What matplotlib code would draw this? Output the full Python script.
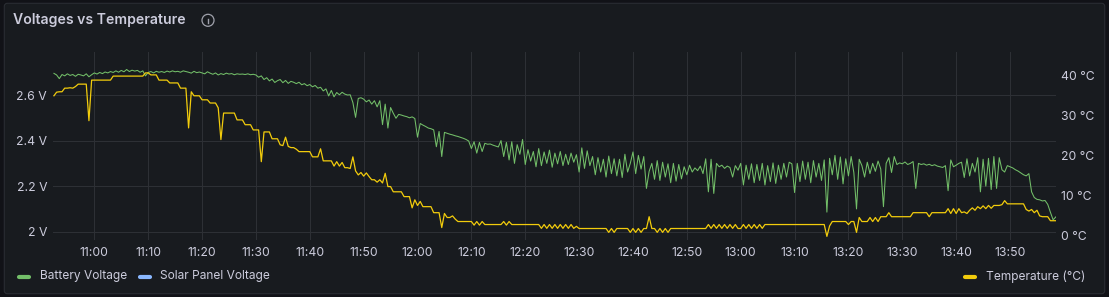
import matplotlib
matplotlib.use("Agg")
import matplotlib.pyplot as plt
import matplotlib.dates as mdates
from matplotlib.patches import FancyBboxPatch, Circle
from matplotlib.lines import Line2D
from datetime import datetime, timedelta

plt.rcParams['font.family'] = ['Inter', 'DejaVu Sans']

# samples every 30 s starting 10:52:30
start = datetime(2024, 1, 1, 10, 52, 30)
step_s = 30

battery_v = [
    2.695, 2.688, 2.672, 2.690, 2.684, 2.693, 2.686, 2.690, 2.682, 2.691,
    2.688, 2.684, 2.693, 2.680, 2.689, 2.697, 2.692, 2.699, 2.694, 2.701,
    2.697, 2.703, 2.699, 2.706, 2.700, 2.708, 2.702, 2.712, 2.703, 2.709,
    2.705, 2.708, 2.700, 2.706, 2.684, 2.699, 2.703, 2.697, 2.704, 2.700,
    2.703, 2.699, 2.705, 2.701, 2.706, 2.702, 2.704, 2.700, 2.706, 2.703,
    2.700, 2.696, 2.704, 2.698, 2.701, 2.697, 2.693, 2.702, 2.696, 2.691,
    2.697, 2.688, 2.694, 2.690, 2.696, 2.692, 2.694, 2.689, 2.693, 2.691,
    2.692, 2.690, 2.693, 2.689, 2.691, 2.688, 2.678, 2.684, 2.668, 2.676,
    2.662, 2.670, 2.655, 2.663, 2.668, 2.654, 2.664, 2.651, 2.660, 2.656,
    2.650, 2.656, 2.645, 2.650, 2.641, 2.646, 2.636, 2.642, 2.630, 2.634,
    2.618, 2.627, 2.596, 2.620, 2.592, 2.611, 2.601, 2.612, 2.604, 2.600,
    2.601, 2.567, 2.502, 2.585, 2.588, 2.582, 2.570, 2.578, 2.560, 2.575,
    2.548, 2.575, 2.470, 2.560, 2.455, 2.545, 2.520, 2.498, 2.515, 2.512,
    2.508, 2.505, 2.500, 2.504, 2.497, 2.415, 2.475, 2.468, 2.462, 2.455,
    2.452, 2.447, 2.373, 2.440, 2.330, 2.436, 2.432, 2.428, 2.425, 2.421,
    2.418, 2.414, 2.410, 2.405, 2.398, 2.365, 2.395, 2.345, 2.392, 2.352,
    2.388, 2.384, 2.385, 2.380, 2.376, 2.372, 2.400, 2.330, 2.392, 2.315,
    2.395, 2.300, 2.382, 2.340, 2.405, 2.295, 2.360, 2.310, 2.352, 2.285,
    2.365, 2.290, 2.350, 2.300, 2.358, 2.283, 2.345, 2.298, 2.352, 2.290,
    2.340, 2.295, 2.345, 2.305, 2.338, 2.262, 2.368, 2.278, 2.355, 2.290,
    2.330, 2.250, 2.325, 2.262, 2.318, 2.240, 2.332, 2.255, 2.320, 2.245,
    2.318, 2.238, 2.340, 2.262, 2.300, 2.350, 2.255, 2.335, 2.275, 2.330,
    2.190, 2.265, 2.300, 2.230, 2.312, 2.225, 2.305, 2.240, 2.298, 2.215,
    2.300, 2.222, 2.295, 2.232, 2.285, 2.250, 2.292, 2.262, 2.280, 2.268,
    2.288, 2.255, 2.320, 2.175, 2.318, 2.168, 2.300, 2.285, 2.292, 2.278,
    2.288, 2.282, 2.240, 2.290, 2.270, 2.300, 2.205, 2.292, 2.230, 2.298,
    2.215, 2.295, 2.225, 2.300, 2.205, 2.290, 2.220, 2.302, 2.212, 2.292,
    2.230, 2.300, 2.240, 2.305, 2.298, 2.172, 2.300, 2.220, 2.310, 2.230,
    2.305, 2.215, 2.312, 2.240, 2.300, 2.225, 2.315, 2.086, 2.322, 2.250,
    2.335, 2.230, 2.328, 2.210, 2.320, 2.245, 2.330, 2.260, 2.100, 2.318,
    2.290, 2.240, 2.305, 2.255, 2.300, 2.265, 2.310, 2.275, 2.110, 2.300,
    2.325, 2.260, 2.330, 2.295, 2.302, 2.298, 2.306, 2.295, 2.300, 2.308,
    2.190, 2.300, 2.295, 2.298, 2.292, 2.296, 2.290, 2.294, 2.288, 2.285,
    2.282, 2.290, 2.180, 2.315, 2.285, 2.292, 2.300, 2.305, 2.238, 2.320,
    2.245, 2.300, 2.262, 2.325, 2.175, 2.318, 2.200, 2.322, 2.185, 2.330,
    2.190, 2.325, 2.272, 2.262, 2.290, 2.285, 2.280, 2.272, 2.266, 2.258,
    2.250, 2.245, 2.255, 2.175, 2.150, 2.142, 2.140, 2.135, 2.137, 2.120,
    2.085, 2.052, 2.065,
]

temperature_c = [
    34.9, 35.8, 35.9, 35.9, 36.8, 36.8, 36.9, 36.8, 37.2, 37.8,
    37.8, 37.8, 37.8, 28.7, 38.8, 38.8, 38.8, 38.8, 38.8, 38.8,
    38.8, 38.8, 39.8, 39.8, 39.8, 39.8, 39.8, 39.8, 39.8, 39.8,
    39.8, 39.8, 39.8, 39.8, 40.6, 40.6, 40.1, 40.1, 40.1, 38.8,
    38.8, 38.8, 38.8, 38.1, 38.1, 38.1, 38.1, 36.8, 36.8, 36.8,
    26.9, 35.9, 34.9, 34.9, 34.9, 33.9, 33.9, 33.9, 33.1, 33.1,
    33.1, 31.9, 24.0, 30.6, 30.6, 30.6, 30.6, 30.6, 28.9, 28.9,
    28.9, 27.7, 27.7, 27.7, 26.4, 26.4, 26.4, 18.5, 25.9, 25.9,
    25.9, 24.2, 24.2, 24.2, 22.7, 22.5, 24.6, 22.3, 22.0, 22.0,
    21.6, 21.0, 21.0, 21.0, 21.0, 21.0, 19.7, 19.7, 19.7, 21.7,
    18.7, 18.7, 18.7, 18.7, 17.4, 18.5, 17.4, 18.3, 17.0, 17.0,
    16.8, 19.7, 16.2, 15.2, 15.8, 14.9, 15.7, 14.8, 14.0, 14.0,
    13.4, 14.0, 13.2, 15.6, 12.3, 12.3, 11.0, 11.0, 11.0, 11.0,
    9.8, 9.8, 9.8, 7.0, 9.0, 7.6, 8.6, 7.3, 7.3, 7.3,
    7.3, 5.8, 5.8, 5.8, 2.1, 5.6, 4.6, 4.6, 5.0, 4.2,
    3.6, 3.6, 3.6, 3.6, 3.6, 3.6, 2.7, 3.6, 2.7, 3.6,
    2.85, 2.85, 2.85, 2.85, 2.85, 2.85, 2.85, 3.6, 2.7, 3.6,
    2.85, 2.85, 2.85, 2.85, 2.85, 2.85, 2.85, 2.85, 2.85, 2.85,
    2.85, 1.9, 2.85, 1.9, 2.85, 1.9, 2.85, 1.9, 2.85, 1.9,
    2.85, 1.9, 2.85, 1.9, 2.4, 1.86, 1.86, 1.86, 1.86, 1.86,
    1.86, 1.86, 1.86, 1.86, 1.86, 1.86, 0.9, 1.86, 0.9, 1.86,
    1.86, 1.86, 1.86, 1.86, 0.9, 1.86, 0.9, 1.86, 0.9, 1.86,
    1.86, 4.8, 1.86, 1.86, 0.9, 1.86, 0.9, 1.86, 0.9, 1.86,
    1.86, 1.86, 1.86, 1.86, 1.86, 1.86, 1.86, 1.86, 1.86, 1.86,
    1.86, 1.86, 1.86, 2.85, 1.9, 2.85, 1.9, 2.85, 1.9, 2.85,
    1.9, 2.85, 1.9, 2.85, 1.86, 1.86, 2.85, 1.9, 2.85, 1.9,
    2.85, 1.9, 2.85, 1.9, 2.85, 2.85, 2.85, 2.85, 2.85, 2.85,
    2.85, 2.85, 2.85, 2.85, 2.85, 2.85, 2.85, 2.85, 2.85, 2.85,
    2.85, 2.85, 2.85, 2.85, 2.85, 2.85, 2.85, -0.1, 2.5, 3.6,
    3.6, 3.6, 3.6, 3.6, 3.6, 2.85, 3.6, 3.6, 0.9, 4.6,
    3.6, 3.6, 3.6, 4.6, 3.6, 4.6, 3.6, 4.8, 4.8, 4.8,
    5.8, 4.8, 4.8, 4.8, 4.8, 4.8, 4.8, 4.8, 4.8, 5.8,
    5.8, 5.8, 5.8, 5.8, 5.8, 4.8, 5.8, 5.8, 5.8, 5.8,
    5.8, 5.8, 6.8, 5.6, 6.8, 5.6, 6.8, 5.8, 6.0, 5.6,
    6.4, 7.0, 6.4, 7.3, 6.8, 7.5, 6.8, 7.6, 6.9, 7.6,
    7.6, 7.6, 7.8, 8.8, 8.0, 8.0, 8.0, 8.0, 8.0, 8.0,
    8.0, 6.6, 6.2, 6.6, 5.8, 6.4, 5.0, 4.8, 4.8, 4.8,
    3.8, 3.8, 3.8,
]

solar_v = []  # listed in legend, no samples in range

v_ticks = [2.0, 2.2, 2.4, 2.6]
v_labels = ["2 V", "2.2 V", "2.4 V", "2.6 V"]
c_ticks = [0, 10, 20, 30, 40]
c_labels = ["0 °C", "10 °C", "20 °C", "30 °C", "40 °C"]

series_names = ["Battery Voltage", "Solar Panel Voltage", "Temperature (°C)"]
series_colors = ["#73bf69", "#8ab8ff", "#f2cc0c"]

times = [start + timedelta(seconds=step_s * i) for i in range(len(battery_v))]

BG = "#181b1f"
CANVAS = "#111217"
TEXT = "#ccccdc"
GRID = "#2d3035"
W, H = 1109, 297

fig = plt.figure(figsize=(W / 100, H / 100), dpi=100, facecolor=CANVAS)

# panel
panel = FancyBboxPatch((4.3 / 100, 3.3 / 100), (W - 8.6) / 100, (H - 6.6) / 100,
                       boxstyle="round,pad=0,rounding_size=0.03",
                       transform=fig.dpi_scale_trans, facecolor=BG,
                       edgecolor="#2a2d33", linewidth=0.8, zorder=-10)
fig.add_artist(panel)

def px(x, y):
    # pixel (from top-left) -> inches
    return x / 100, (H - y) / 100

fig.text(*px(13, 20), "Voltages vs Temperature", transform=fig.dpi_scale_trans,
         fontsize=10.1, fontweight="semibold", color=TEXT, va="center", ha="left")

# info icon
fig.add_artist(Circle(px(208, 20.3), 0.06, transform=fig.dpi_scale_trans,
                      facecolor="none", edgecolor="#9fa1ab", linewidth=0.9))
fig.add_artist(Line2D(*zip(px(208, 19.3), px(208, 23.3)), transform=fig.dpi_scale_trans,
                      color="#9fa1ab", linewidth=1.0))
fig.add_artist(Line2D(*zip(px(208, 17.2), px(208, 17.4)), transform=fig.dpi_scale_trans,
                      color="#9fa1ab", linewidth=1.2, solid_capstyle="round"))

left, right, top, bottom = 53.3, 1056, 52, 240
ax = fig.add_axes([left / W, 1 - bottom / H, (right - left) / W, (bottom - top) / H])
ax.set_facecolor("none")
ax2 = ax.twinx()

ax.plot(times, battery_v, color=series_colors[0], linewidth=0.75, zorder=3)
ax2.plot(times, temperature_c, color=series_colors[2], linewidth=0.9, zorder=3)

ax.set_xlim(datetime(2024, 1, 1, 10, 52, 23), datetime(2024, 1, 1, 13, 58, 32))
ax.set_ylim(1.9636, 2.7888)
ax2.set_ylim(-1.0, 45.8)

ax.xaxis.set_major_locator(mdates.MinuteLocator(byminute=range(0, 60, 10)))
ax.xaxis.set_major_formatter(mdates.DateFormatter("%H:%M"))
ax.set_yticks(v_ticks, v_labels)
ax2.set_yticks(c_ticks, c_labels)

for a in (ax, ax2):
    for s in a.spines.values():
        s.set_visible(False)
ax.tick_params(axis="both", length=0, colors=TEXT, labelsize=8.8)
ax.tick_params(axis="x", pad=5)
ax.tick_params(axis="y", pad=4.5)
ax2.tick_params(axis="y", length=0, colors=TEXT, labelsize=8.8, pad=3.6)
ax.grid(True, color=GRID, linewidth=0.75)

# legend
legend_items = [(17, 39.5, 0), (138, 160, 1), (963, 986, 2)]
for mx, tx, k in legend_items:
    fig.add_artist(Line2D(*zip(px(mx + 2, 276.5), px(mx + 12, 276.5)),
                          transform=fig.dpi_scale_trans, color=series_colors[k],
                          linewidth=3, solid_capstyle="round"))
    fig.text(*px(tx, 276.5), series_names[k], transform=fig.dpi_scale_trans,
             fontsize=8.6, color=TEXT, va="center", ha="left")

fig.savefig("out.png", dpi=100, facecolor=CANVAS)
